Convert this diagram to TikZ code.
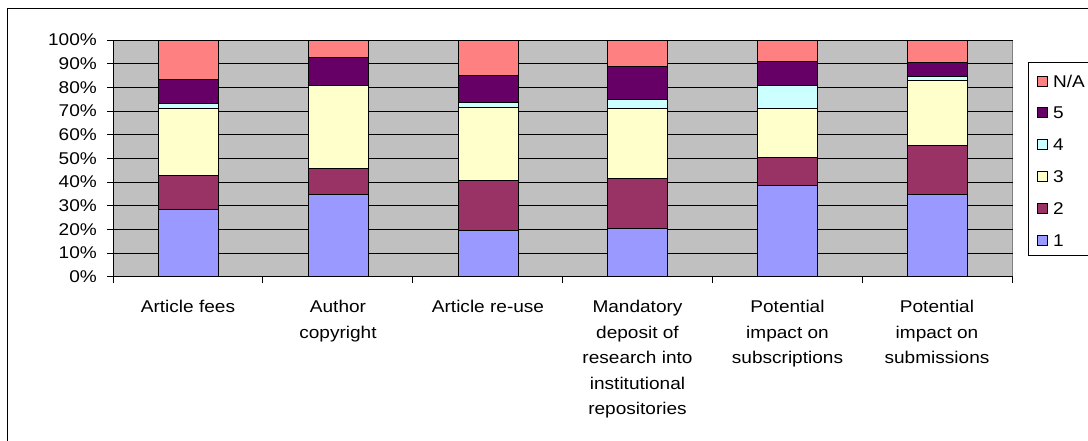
\documentclass[tikz,border=0pt]{standalone}
\usepackage{fontspec}
\setmainfont{Liberation Sans}[FakeStretch=1.12]
\definecolor{cOne}{HTML}{9999FF}
\definecolor{cTwo}{HTML}{993366}
\definecolor{cThree}{HTML}{FFFFCC}
\definecolor{cFour}{HTML}{CCFFFF}
\definecolor{cFive}{HTML}{660066}
\definecolor{cNA}{HTML}{FF8080}
\definecolor{plotbg}{HTML}{C0C0C0}
\definecolor{plotedge}{HTML}{808080}
\begin{document}
\begin{tikzpicture}[x=1pt,y=-1pt,
  lbl/.style={font=\fontsize{17}{25.5}\selectfont, inner sep=0pt},
  cat/.style={lbl, align=center, anchor=north},
  ylab/.style={lbl, anchor=east},
  seg/.style={draw=black, line width=1pt},
  gridln/.style={black, line width=0.9pt},
  axisln/.style={black, line width=1pt},
  swatch/.style={draw=black, line width=0.9pt, minimum size=10pt, inner sep=0pt}]
\useasboundingbox (0,0) rectangle (1088,440);
\clip (0,0) rectangle (1088,440);
\fill[white] (0,0) rectangle (1088,440);
\draw[line width=1pt] (7,8) rectangle (1100,450);
% plot area
\fill[plotbg] (113,40) rectangle (1012.5,276.7);
\draw[plotedge, line width=0.8pt] (113,40) -- (1012.5,40) -- (1012.5,276.7);
\foreach \v in {10,20,...,100}
  \draw[gridln] (113,{276.7-2.367*\v}) -- (1012.5,{276.7-2.367*\v});
% bars
\foreach \cx/\a/\b/\c/\d/\e in {188/28.2/42.7/71.1/73.0/83.5,
    338/34.8/45.8/80.7/80.7/92.7,
    488/19.7/40.7/71.6/73.7/84.8,
    637.5/20.4/41.3/71.1/74.9/88.7,
    787.5/38.6/50.4/71.1/80.7/91.1,
    937/34.6/55.5/82.8/84.5/90.4} {
  \draw[seg, fill=cOne]   ({\cx-30},276.7) rectangle ({\cx+30},{276.7-2.367*\a});
  \draw[seg, fill=cTwo]   ({\cx-30},{276.7-2.367*\a}) rectangle ({\cx+30},{276.7-2.367*\b});
  \draw[seg, fill=cThree] ({\cx-30},{276.7-2.367*\b}) rectangle ({\cx+30},{276.7-2.367*\c});
  \draw[seg, fill=cFour]  ({\cx-30},{276.7-2.367*\c}) rectangle ({\cx+30},{276.7-2.367*\d});
  \draw[seg, fill=cFive]  ({\cx-30},{276.7-2.367*\d}) rectangle ({\cx+30},{276.7-2.367*\e});
  \draw[seg, fill=cNA]    ({\cx-30},{276.7-2.367*\e}) rectangle ({\cx+30},40);
}
% axes
\draw[axisln] (113,40) -- (113,276.7) -- (1012.5,276.7);
\foreach \v in {0,10,...,100} {
  \draw[axisln] (107,{276.7-2.367*\v}) -- (113,{276.7-2.367*\v});
  \node[ylab] (y\v) at (97,{276.7-2.367*\v}) {\v\%};
}
\foreach \i in {0,...,6}
  \draw[axisln] ({113+149.9*\i},276.7) -- ({113+149.9*\i},283);
% category labels
\node[cat] (c1) at (188,300) {Article fees};
\node[cat] (c2) at (338,300) {Author\\copyright};
\node[cat] (c3) at (488,300) {Article re-use};
\node[cat] (c4) at (637.5,300) {Mandatory\\deposit of\\research into\\institutional\\repositories};
\node[cat] (c5) at (787.5,300) {Potential\\impact on\\subscriptions};
\node[cat] (c6) at (937,300) {Potential\\impact on\\submissions};
% legend
\draw[black, line width=0.9pt] (1028.3,62.3) rectangle (1100,255);
\foreach \n/\col/\t/\yy in {na/cNA/N\slash A/81, l5/cFive/5/112.5, l4/cFour/4/144.5,
    l3/cThree/3/176.5, l2/cTwo/2/208.5, l1/cOne/1/240.5} {
  \node[swatch, fill=\col] (s\n) at (1042.5,\yy) {};
  \node[lbl, anchor=west] (t\n) at (1053,\yy) {\t};
}
\end{tikzpicture}
\end{document}
